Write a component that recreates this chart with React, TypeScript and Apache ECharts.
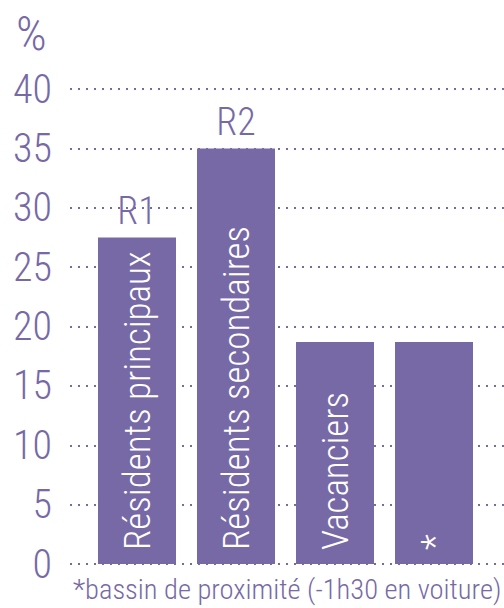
import React, { useEffect, useRef } from "react";
import * as echarts from "echarts";

const categories = ["Résidents principaux", "Résidents secondaires", "Vacanciers", "*"];
const values = [27.5, 35, 18.7, 18.7];
const topLabels = ["R1", "R2", "", ""];
const yTicks = [0, 5, 10, 15, 20, 25, 30, 35, 40];
const footnote = "*bassin de proximité (-1h30 en voiture)";

const PURPLE = "#7769A6";
const FONT = "'Roboto Condensed', 'DejaVu Sans Condensed', sans-serif";

export default function App() {
  const ref = useRef<HTMLDivElement>(null);
  useEffect(() => {
    const chart = echarts.init(ref.current!, null, { renderer: "svg" });
    chart.setOption({
      animation: false,
      grid: [
        { left: 87.5, right: 20.5, top: 89, bottom: 44 },
        { left: 70, right: 0, top: 89, bottom: 44 },
      ],
      xAxis: [
        {
          type: "category",
          gridIndex: 0,
          data: categories,
          show: false,
        },
        { type: "value", gridIndex: 1, show: false, min: 0, max: 1 },
      ],
      yAxis: [
        { type: "value", gridIndex: 0, min: 0, max: 40, show: false },
        {
          type: "value",
          gridIndex: 1,
          min: 0,
          max: 40,
          interval: 5,
          axisLine: { show: false },
          axisTick: { show: false },
          axisLabel: {
            color: PURPLE,
            fontSize: 40,
            fontWeight: 300,
            fontFamily: FONT,
            margin: 18,
            formatter: (v: number) => (yTicks.includes(v) ? String(v) : ""),
          },
          splitLine: {
            show: true,
            lineStyle: { color: PURPLE, width: 2, type: [2, 6] },
          },
        },
      ],
      series: [
        {
          type: "bar",
          xAxisIndex: 0,
          yAxisIndex: 0,
          data: values,
          barWidth: 78,
          itemStyle: { color: PURPLE },
          label: {
            show: true,
            position: "insideBottom",
            rotate: 90,
            align: "left",
            verticalAlign: "middle",
            distance: 14,
            color: "#ffffff",
            fontSize: 37,
            fontWeight: 300,
            fontFamily: FONT,
            formatter: (p: any) => categories[p.dataIndex],
          },
          z: 3,
        },
        {
          type: "bar",
          xAxisIndex: 0,
          yAxisIndex: 0,
          data: values,
          barWidth: 78,
          barGap: "-100%",
          itemStyle: { color: "transparent" },
          label: {
            show: true,
            position: "top",
            distance: 7,
            color: PURPLE,
            fontSize: 38,
            fontWeight: 300,
            fontFamily: FONT,
            formatter: (p: any) => topLabels[p.dataIndex],
          },
          z: 4,
        },
      ],
      graphic: [
        {
          type: "text",
          left: 16,
          top: 9,
          style: { text: "%", fill: PURPLE, fontSize: 48, fontWeight: 300, fontFamily: FONT },
        },
        {
          type: "text",
          left: 73,
          top: 575,
          style: { text: footnote, fill: PURPLE, fontSize: 28.5, fontWeight: 300, fontFamily: FONT },
        },
      ],
    });
    return () => chart.dispose();
  }, []);
  return <div ref={ref} style={{ width: 504, height: 608, position: "absolute", left: 0, top: 0 }} />;
}
